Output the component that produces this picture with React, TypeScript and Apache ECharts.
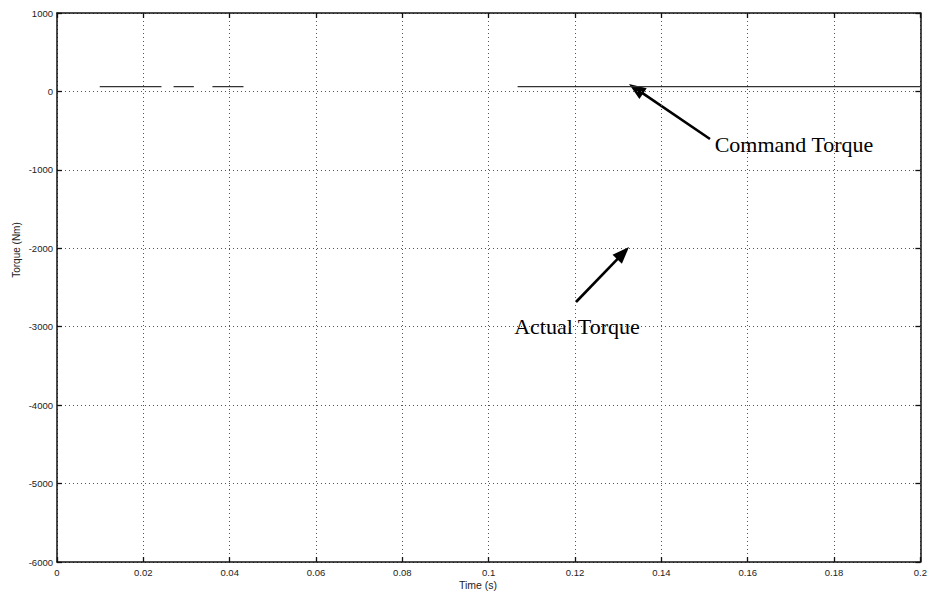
import React, { useEffect, useRef } from "react";
import * as echarts from "echarts";

// Command torque (Nm): visible segments of the trace
const cmdSegStart = [0.0099, 0.027, 0.036, 0.1067];
const cmdSegEnd = [0.0242, 0.0317, 0.0432, 0.2];
const cmdValue = [60, 60, 60, 60];

const xTicks = { min: 0, max: 0.2, interval: 0.02 };
const yTicks = { min: -6000, max: 1000, interval: 1000 };

function arrow(x1: number, y1: number, x2: number, y2: number) {
  const dx = x2 - x1;
  const dy = y2 - y1;
  const len = Math.sqrt(dx * dx + dy * dy);
  const ux = dx / len;
  const uy = dy / len;
  const hl = 17;
  const hw = 6.5;
  const bx = x2 - ux * hl;
  const by = y2 - uy * hl;
  const nx = -uy;
  const ny = ux;
  return [
    {
      type: "line",
      shape: { x1, y1, x2: bx + ux * 2, y2: by + uy * 2 },
      style: { stroke: "#000", lineWidth: 2.6 },
    },
    {
      type: "polygon",
      shape: {
        points: [
          [x2, y2],
          [bx + nx * hw, by + ny * hw],
          [bx - nx * hw, by - ny * hw],
        ],
      },
      style: { fill: "#000" },
    },
  ];
}

export default function App() {
  const ref = useRef<HTMLDivElement>(null);
  useEffect(() => {
    if (!ref.current) return;
    const chart = echarts.init(ref.current, undefined, { renderer: "svg" });
    const cmdData: any[] = [];
    cmdSegStart.forEach((s, i) => {
      cmdData.push([s, cmdValue[i]]);
      cmdData.push([cmdSegEnd[i], cmdValue[i]]);
      if (i < cmdSegStart.length - 1) cmdData.push([cmdSegEnd[i], "-"]);
    });
    const fmtX = (v: number) => String(parseFloat(v.toFixed(2)));
    const fmtY = (v: number) => String(Math.round(v));
    const labelStyle = {
      fontFamily: "Liberation Sans, Arial, sans-serif",
      fontSize: 9.5,
      color: "#222",
    };
    const axisLine = { show: true, onZero: false, lineStyle: { color: "#111", width: 1.5 } };
    const tick = { show: true, inside: true, length: 5, lineStyle: { color: "#111", width: 1.3 } };
    const split = { show: true, lineStyle: { color: "#555", width: 1, type: [1, 3] as any } };
    chart.setOption({
      animation: false,
      backgroundColor: "#fff",
      grid: { left: 57, right: 7, top: 13, bottom: 41, containLabel: false },
      xAxis: [
        {
          type: "value",
          position: "bottom",
          ...xTicks,
          axisLine,
          axisTick: tick,
          splitLine: split,
          axisLabel: { ...labelStyle, margin: 5, formatter: fmtX },
        },
        {
          type: "value",
          position: "top",
          ...xTicks,
          axisLine,
          axisTick: tick,
          splitLine: { show: false },
          axisLabel: { show: false },
        },
      ],
      yAxis: [
        {
          type: "value",
          position: "left",
          ...yTicks,
          axisLine,
          axisTick: tick,
          splitLine: split,
          axisLabel: { ...labelStyle, margin: 4, formatter: fmtY },
        },
        {
          type: "value",
          position: "right",
          ...yTicks,
          axisLine,
          axisTick: tick,
          splitLine: { show: false },
          axisLabel: { show: false },
        },
      ],
      series: [
        {
          name: "Command Torque",
          type: "line",
          xAxisIndex: 0,
          yAxisIndex: 0,
          showSymbol: false,
          connectNulls: false,
          data: cmdData,
          lineStyle: { color: "#333", width: 1.2 },
        },
      ],
      graphic: [
        {
          type: "text",
          x: 478,
          y: 585,
          style: {
            text: "Time (s)",
            fontFamily: "Liberation Sans, Arial, sans-serif",
            fontSize: 10.5,
            fill: "#222",
            align: "center",
            verticalAlign: "middle",
          },
        },
        {
          type: "text",
          x: 16,
          y: 250,
          rotation: Math.PI / 2,
          style: {
            text: "Torque (Nm)",
            fontFamily: "Liberation Sans, Arial, sans-serif",
            fontSize: 10,
            fill: "#222",
            align: "center",
            verticalAlign: "middle",
          },
        },
        {
          type: "text",
          x: 794,
          y: 144,
          style: {
            text: "Command Torque",
            fontFamily: "Liberation Serif, Times New Roman, serif",
            fontSize: 22,
            fill: "#000",
            align: "center",
            verticalAlign: "middle",
          },
        },
        {
          type: "text",
          x: 577,
          y: 326,
          style: {
            text: "Actual Torque",
            fontFamily: "Liberation Serif, Times New Roman, serif",
            fontSize: 22,
            fill: "#000",
            align: "center",
            verticalAlign: "middle",
          },
        },
        ...arrow(710, 139, 629, 84),
        ...arrow(576, 302, 629, 247),
      ],
    });
    return () => chart.dispose();
  }, []);
  return (
    <div
      ref={ref}
      style={{ position: "fixed", left: 0, top: 0, width: 930, height: 603, background: "#fff" }}
    />
  );
}
